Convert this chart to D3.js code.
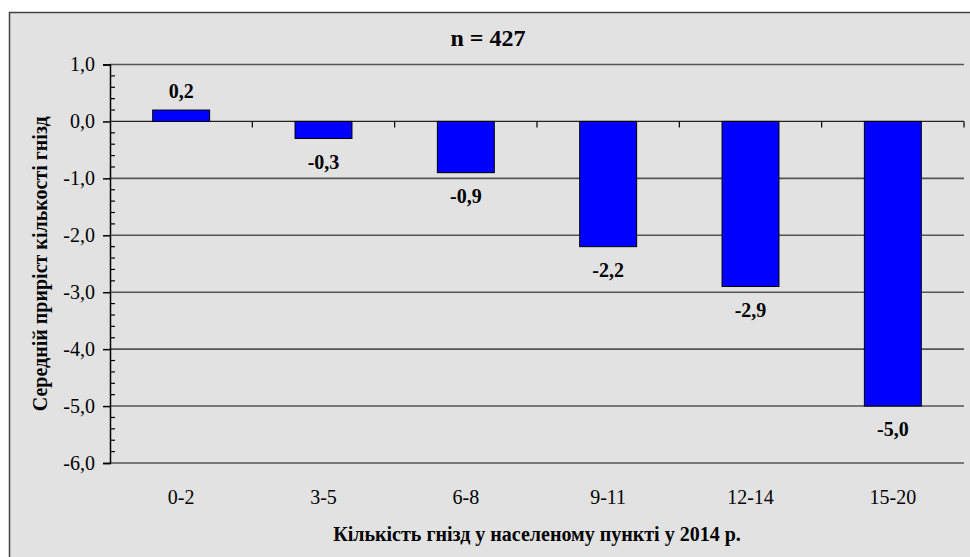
<!DOCTYPE html>
<html>
<head>
<meta charset="utf-8">
<script src="https://cdn.jsdelivr.net/npm/d3@7"></script>
<style>
  body { margin: 0; background: #fff; }
  text { font-family: "Liberation Serif", "Times New Roman", serif; }
</style>
</head>
<body>
<script>
// data
let categories = ["0-2", "3-5", "6-8", "9-11", "12-14", "15-20"];
let values = [0.2, -0.3, -0.9, -2.2, -2.9, -5.0];
let yTicks = [1, 0, -1, -2, -3, -4, -5, -6];
let titleText = "n = 427";
let xTitle = "Кількість гнізд у населеному пункті у 2014 р.";
let yTitle = "Середній приріст кількості гнізд";

var W = 970, H = 557;
var plotLeft = 110, plotRight = 964, plotTop = 64.5, plotBottom = 463;

var svg = d3.select("body").append("svg")
  .attr("width", W)
  .attr("height", H);

// frame, cut off on the right and bottom like the original
svg.append("rect")
  .attr("x", 9.5).attr("y", 12.5)
  .attr("width", W + 20).attr("height", H + 20)
  .attr("fill", "#e2e2e2")
  .attr("stroke", "#444")
  .attr("stroke-width", 1.5);

var xScale = d3.scaleBand().domain(categories).range([plotLeft, plotRight]).padding(0);
var yScale = d3.scaleLinear().domain([-6, 1]).range([plotBottom, plotTop]);

function fmt(d) {
  return d3.format(".1f")(d).replace(".", ",").replace("−", "-");
}

// gridlines
svg.selectAll("line.grid")
  .data(yTicks)
  .enter()
  .append("line")
  .attr("class", "grid")
  .attr("x1", plotLeft).attr("x2", plotRight)
  .attr("y1", function(d) { return yScale(d); })
  .attr("y2", function(d) { return yScale(d); })
  .attr("stroke", function(d) { return d == 0 ? "#222" : "#555"; })
  .attr("stroke-width", function(d) { return d == 0 ? 1.2 : 1.6; });

// bars
var barW = xScale.bandwidth() * 0.4;
svg.selectAll("rect.bar")
  .data(values)
  .enter()
  .append("rect")
  .attr("class", "bar")
  .attr("x", function(d, i) { return xScale(categories[i]) + (xScale.bandwidth() - barW) / 2; })
  .attr("y", function(d) { return yScale(Math.max(d, 0)); })
  .attr("width", barW)
  .attr("height", function(d) { return Math.abs(yScale(d) - yScale(0)); })
  .attr("fill", "#0000ff")
  .attr("stroke", "#000")
  .attr("stroke-width", 1);

// value labels
svg.selectAll("text.val")
  .data(values)
  .enter()
  .append("text")
  .attr("class", "val")
  .attr("x", function(d, i) { return xScale(categories[i]) + xScale.bandwidth() / 2; })
  .attr("y", function(d) { return d >= 0 ? yScale(d) - 12 : yScale(d) + 30; })
  .attr("text-anchor", "middle")
  .attr("font-size", "20px")
  .attr("font-weight", "bold")
  .text(function(d) { return fmt(d); });

// y axis with major ticks outside and minor ticks inside
var yAxisG = svg.append("g").attr("transform", "translate(" + plotLeft + ",0)");
yAxisG.call(d3.axisLeft(yScale).tickValues(yTicks).tickSize(7).tickPadding(8).tickFormat(fmt));
yAxisG.select(".domain").attr("stroke", "#000").attr("stroke-width", 1.5);
yAxisG.selectAll(".tick line").attr("stroke", "#000").attr("stroke-width", 1.5);
yAxisG.selectAll(".tick text")
  .attr("font-family", "Liberation Serif, serif")
  .attr("font-size", "20px")
  .attr("fill", "#000");

var minor = d3.range(-30, 6).map(function(k) { return k * 0.2; })
  .filter(function(v) { return Math.abs(v - Math.round(v)) > 0.01; });
yAxisG.selectAll("line.minor")
  .data(minor)
  .enter()
  .append("line")
  .attr("class", "minor")
  .attr("x1", 0).attr("x2", 5)
  .attr("y1", function(d) { return yScale(d); })
  .attr("y2", function(d) { return yScale(d); })
  .attr("stroke", "#000")
  .attr("stroke-width", 1.2);

// x category ticks on the zero line
var bounds = categories.map(function(c) { return xScale(c) + xScale.bandwidth(); });
svg.selectAll("line.xtick")
  .data(bounds)
  .enter()
  .append("line")
  .attr("class", "xtick")
  .attr("x1", function(d) { return d; })
  .attr("x2", function(d) { return d; })
  .attr("y1", yScale(0))
  .attr("y2", yScale(0) + 6)
  .attr("stroke", "#000")
  .attr("stroke-width", 1.2);

// category labels along the bottom
svg.selectAll("text.cat")
  .data(categories)
  .enter()
  .append("text")
  .attr("class", "cat")
  .attr("x", function(d) { return xScale(d) + xScale.bandwidth() / 2; })
  .attr("y", 504)
  .attr("text-anchor", "middle")
  .attr("font-size", "20px")
  .text(function(d) { return d; });

// titles
svg.append("text")
  .attr("x", 488).attr("y", 46)
  .attr("text-anchor", "middle")
  .attr("font-size", "24px")
  .attr("font-weight", "bold")
  .text(titleText);

svg.append("text")
  .attr("x", (plotLeft + plotRight) / 2).attr("y", 541)
  .attr("text-anchor", "middle")
  .attr("font-size", "20px")
  .attr("font-weight", "bold")
  .text(xTitle);

svg.append("text")
  .attr("transform", "translate(47," + (plotTop + plotBottom) / 2 + ") rotate(-90)")
  .attr("text-anchor", "middle")
  .attr("font-size", "20px")
  .attr("font-weight", "bold")
  .text(yTitle);
</script>
</body>
</html>
